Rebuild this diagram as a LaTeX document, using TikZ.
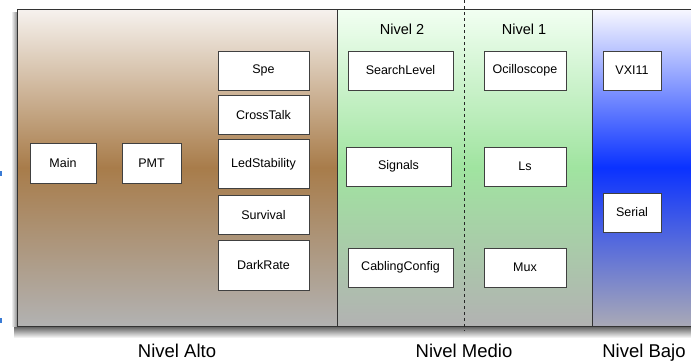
\documentclass[tikz,border=0pt]{standalone}
\usepackage{fontspec}
\setmainfont{Liberation Sans}
\usetikzlibrary{positioning}

\definecolor{altoTop}{RGB}{246,242,238}
\definecolor{altoMid}{RGB}{168,124,74}
\definecolor{medioTop}{RGB}{242,255,242}
\definecolor{medioMid}{RGB}{160,228,160}
\definecolor{bajoTop}{RGB}{248,248,255}
\definecolor{bajoMid}{RGB}{10,50,255}
\definecolor{pieGris}{RGB}{178,178,178}
\definecolor{marca}{RGB}{58,123,213}

\tikzset{
  modulo/.style={draw=black!75, fill=white, line width=0.8pt, inner sep=0pt,
    minimum height=39pt, font=\fontsize{12.5}{14}\selectfont},
  borde/.style={draw=black!80, line width=1pt},
  subnivel/.style={font=\fontsize{14.5}{16}\selectfont},
  nivel/.style={font=\fontsize{18.5}{20}\selectfont, inner sep=0pt, anchor=base}
}

\begin{document}
\begin{tikzpicture}[x=1pt, y=-1pt]
    \clip (0,0) rectangle (691,360);
    \fill[white] (0,0) rectangle (691,360);

    % Sombras del marco
    \shade[top color=black!65, bottom color=white] (14,326) rectangle (691,338);
    \shade[left color=white, right color=black!45] (11,12) rectangle (17,326);

    % Paneles
    \shade[top color=altoTop, bottom color=pieGris, middle color=altoMid] (17,9) rectangle (337,326);
    \shade[top color=medioTop, bottom color=pieGris, middle color=medioMid] (337,9) rectangle (592,326);
    \shade[top color=bajoTop, bottom color=pieGris!95!blue, middle color=bajoMid] (592,9) rectangle (700,326);
    \draw[borde] (17,9) rectangle (700,326);
    \draw[borde] (337,9) -- (337,326);
    \draw[borde] (592,9) -- (592,326);

    % Separacion entre niveles
    \draw[dashed, black!85, line width=0.8pt] (464,0) -- (464,331);

    % Marcas azules
    \fill[marca] (0,171) rectangle (2,176);
    \fill[marca] (0,318) rectangle (2,323);

    % Nivel alto
    \node[modulo, minimum width=66pt, minimum height=40pt] (main) at (63,163) {Main};
    \node[modulo, minimum width=59pt, minimum height=40pt] (pmt) at (151.5,163) {PMT};
    \node[modulo, minimum width=91pt] (spe) at (263.5,70.5) {Spe};
    \node[modulo, minimum width=91pt, below=5pt of spe] (crosstalk) {CrossTalk};
    \node[modulo, minimum width=91pt, minimum height=49pt, below=4pt of crosstalk] (ledstab) {LedStability};
    \node[modulo, minimum width=91pt, below=6pt of ledstab] (survival) {Survival};
    \node[modulo, minimum width=91pt, minimum height=50pt, below=5pt of survival] (darkrate) {DarkRate};

    % Nivel medio
    \node[subnivel] (nivel2) at (402,29) {Nivel 2};
    \node[subnivel] (nivel1) at (524,29) {Nivel 1};
    \node[modulo, minimum width=105pt] (search) at (400.5,70.5) {SearchLevel};
    \node[modulo, minimum width=105pt] (signals) at (398.5,166.5) {Signals};
    \node[modulo, minimum width=105pt] (cabling) at (400.5,267.5) {CablingConfig};
    \node[modulo, minimum width=82pt] (osc) at (525,70.5) {Ocilloscope};
    \node[modulo, minimum width=82pt] (ls) at (525,166.5) {Ls};
    \node[modulo, minimum width=82pt] (mux) at (525,267.5) {Mux};

    % Nivel bajo
    \node[modulo, minimum width=58pt] (vxi) at (632,70.5) {VXI11};
    \node[modulo, minimum width=58pt] (serial) at (632,212.5) {Serial};

    % Etiquetas
    \node[nivel] (alto) at (177,357.5) {Nivel Alto};
    \node[nivel] (medio) at (464,357.5) {Nivel Medio};
    \node[nivel] (bajo) at (644,357.5) {Nivel Bajo};
\end{tikzpicture}
\end{document}
